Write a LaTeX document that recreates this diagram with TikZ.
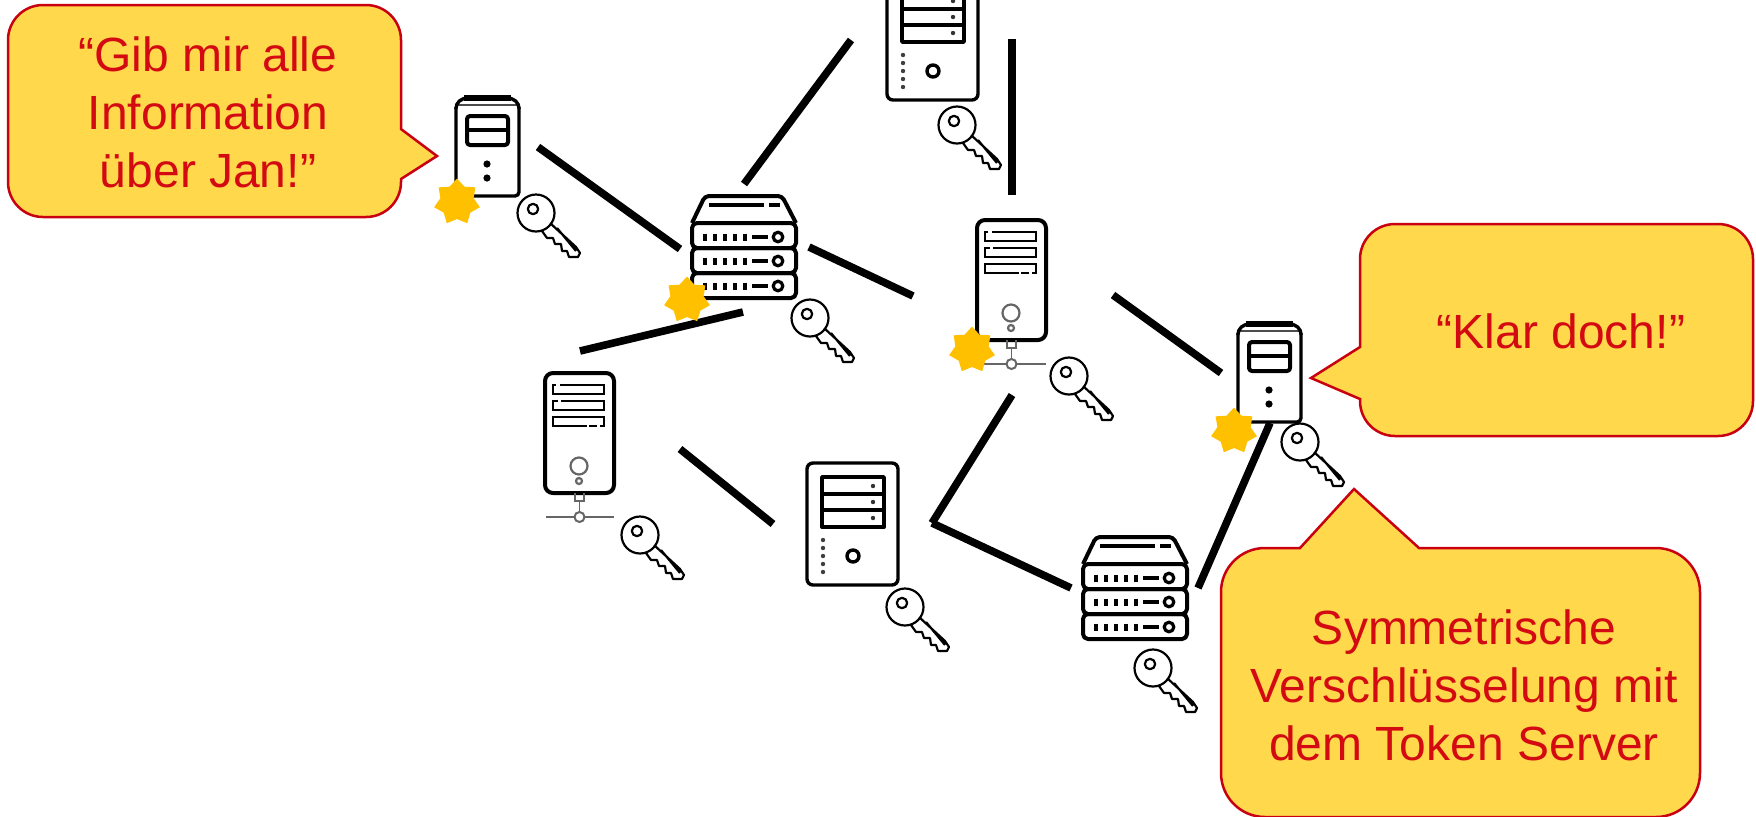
\documentclass[tikz,border=0pt]{standalone}
\usepackage{fontspec}
\setmainfont{Liberation Sans}
\usetikzlibrary{shapes.geometric}
\definecolor{calloutfill}{HTML}{FFD84B}
\definecolor{calloutedge}{HTML}{C8000F}
\definecolor{callouttext}{HTML}{D40A12}
\definecolor{starfill}{HTML}{FFC000}
\definecolor{icongrey}{HTML}{666666}
\tikzset{
  link/.style={draw=black,line width=3.8pt,line cap=butt},
  callout/.style={fill=calloutfill,draw=calloutedge,line width=1.25pt,line join=miter},
  saytext/.style={text=callouttext,font=\fontsize{24}{29}\selectfont,align=center,inner sep=0pt},
  gear/.style={star,star points=7,star point ratio=1.38,minimum size=23.5pt,inner sep=0pt,fill=starfill,draw=none},
  icon/.style={draw=black,line width=1.7pt,line join=round},
  thinicon/.style={draw=black,line width=.85pt},
  pics/key/.style={code={
    \draw[thinicon,line width=1.1pt,line join=round]
      (0,0) circle (18.5)
      (-3,-4) circle (5.2)
      (14,10) -- (40,34) -- (44,40) -- (42,44) -- (33,44) -- (31,38) -- (26,38) -- (25,31) -- (19,31) -- (17,25) -- (11,25) -- (6,18)
      (21,15) -- (40,38);
  }},
  pics/towerA/.style={code={
    \draw[icon,rounded corners=2pt] (0,10) -- (0,99) -- (63,99) -- (63,10);
    \draw[icon,line width=1pt,draw=black!70] (0,8) -- (63,8);
    \draw[icon,rounded corners=2pt] (0,12) -- (0,7) -- (7,1) -- (56,1) -- (63,7) -- (63,12);
    \draw[draw=black,line width=2.6pt] (8,1) -- (55,1);
    \draw[icon,line width=2pt,rounded corners=1.5pt] (11,19) rectangle (52,48);
    \draw[icon,line width=2pt] (11,33) -- (52,33);
    \fill (31,67) circle (3.6) (31,81) circle (3.6);
  }},
  pics/towerB/.style={code={
    \draw[icon,rounded corners=4pt,line width=2pt] (0,0) rectangle (69,120);
    \draw[thinicon] (15,12) -- (59,12) -- (59,21) -- (8,21) -- (8,12) -- (11,12);
    \draw[thinicon] (16,28) -- (59,28) -- (59,37) -- (8,37) -- (8,28) -- (13,28);
    \draw[thinicon] (42,53) -- (8,53) -- (8,44) -- (59,44) -- (59,53) -- (55,53) (44,53) -- (52,53);
    \draw[thinicon,draw=icongrey,line width=1.1pt] (34,93) circle (8.5) (34,108) circle (3);
    \draw[thinicon,draw=icongrey] (30,120) -- (30,128) -- (39,128) -- (39,120) (34.5,128) -- (34.5,139);
    \draw[draw=icongrey,line width=.85pt] (1,144) -- (29.5,144) (39.5,144) -- (69,144);
    \draw[draw=icongrey,line width=1pt] (34.5,144) circle (5);
  }},
  pics/rack/.style={code={
    \draw[icon,line width=2pt,rounded corners=2pt] (0,28) -- (13,1) -- (90,1) -- (104,28);
    \draw[icon,line width=2pt,rounded corners=2.5pt] (0,28) rectangle (104,53);
    \draw[icon,line width=2pt,rounded corners=2.5pt] (0,53) rectangle (104,78);
    \draw[icon,line width=2pt,rounded corners=2.5pt] (0,78) rectangle (104,103);
    \draw[icon,line width=1.8pt] (17,10) -- (72,10) (77,10) -- (88,10);
    \foreach \rowy in {42,66,91}{
      \draw[icon,line width=1.8pt] (13,\rowy-3.5) -- (13,\rowy+3.5) (23,\rowy-3.5) -- (23,\rowy+3.5)
        (33,\rowy-3.5) -- (33,\rowy+3.5) (43,\rowy-3.5) -- (43,\rowy+3.5) (53,\rowy-3.5) -- (53,\rowy+3.5)
        (60,\rowy) -- (76,\rowy);
      \draw[icon,line width=1.6pt] (86,\rowy) circle (4.8);
    }
  }},
  pics/towerD/.style={code={
    \draw[icon,rounded corners=3pt] (0,0) rectangle (91,122);
    \draw[icon,line width=1.9pt] (15,14) rectangle (77,64) (15,31) -- (77,31) (15,47) -- (77,47);
    \fill[black!80] (66,23) circle (2.2) (66,39) circle (2.2) (66,55) circle (2.2);
    \fill[black!75] (16,77) circle (2.2) (16,85) circle (2.2) (16,93) circle (2.2) (16,101) circle (2.2) (16,109) circle (2.2);
    \draw[icon,line width=1.7pt] (46,93) circle (6);
  }},
}
\begin{document}
\begin{tikzpicture}[x=0.5pt,y=-0.5pt]
\useasboundingbox (0,0) rectangle (1756,816);
\clip (0,0) rectangle (1756,816);

% connector end points
\coordinate (l1a) at (851,40);   \coordinate (l1b) at (744,184);
\coordinate (l2a) at (1012,39);  \coordinate (l2b) at (1012,195);
\coordinate (l3a) at (538,147);  \coordinate (l3b) at (680,249);
\coordinate (l4a) at (809,247);  \coordinate (l4b) at (913,296);
\coordinate (l5a) at (580,351);  \coordinate (l5b) at (743,312);
\coordinate (l6a) at (1113,295); \coordinate (l6b) at (1221,373);
\coordinate (l7a) at (1012,395); \coordinate (corner) at (932,523);
\coordinate (l8b) at (1071,588);
\coordinate (l9a) at (680,449);  \coordinate (l9b) at (773,524);
\coordinate (l10a) at (1270,423);\coordinate (l10b) at (1198,588);

% icons
\pic (srvtop) at (887,-22) {towerD};
\pic (srvlow) at (807,463) {towerD};
\pic (srvleft) at (456,97) {towerA};
\pic (srvright) at (1238,323) {towerA};
\pic (srvmid) at (977,220) {towerB};
\pic (srvlowleft) at (545,373) {towerB};
\pic (rackmid) at (692,195) {rack};
\pic (racklow) at (1083,536) {rack};

% keys
\pic (k1) at (536,213) {key};
\pic (k2) at (810,318) {key};
\pic (k3) at (1069,376) {key};
\pic (k4) at (905,607) {key};
\pic (k5) at (1153,668) {key};
\pic (k6) at (957,125) {key};
\pic (k7) at (640,535) {key};
\pic (k8) at (1300,442) {key};

% links
\draw[link] (l1a) -- (l1b);
\draw[link] (l2a) -- (l2b);
\draw[link] (l3a) -- (l3b);
\draw[link] (l4a) -- (l4b);
\draw[link] (l5a) -- (l5b);
\draw[link] (l6a) -- (l6b);
\draw[link] (l7a) -- (corner);
\draw[link] (corner) -- (l8b);
\draw[link] (l9a) -- (l9b);
\draw[link] (l10a) -- (l10b);

% stars
\node[gear] (s1) at (457,202) {};
\node[gear] (s2) at (687,300) {};
\node[gear] (s3) at (972,350) {};
\node[gear] (s4) at (1234,431) {};

% callouts (y runs downward, so the arcs turn the other way)
\path[callout] (401,129) -- (401,40) arc[start angle=0,end angle=-90,radius=35]
  -- (43,5) arc[start angle=-90,end angle=-180,radius=35]
  -- (8,182) arc[start angle=180,end angle=90,radius=35]
  -- (366,217) arc[start angle=90,end angle=0,radius=35]
  -- (401,179) -- (437,156) -- cycle;
\path[callout] (1360,347) -- (1360,259) arc[start angle=180,end angle=270,radius=35]
  -- (1718,224) arc[start angle=-90,end angle=0,radius=35]
  -- (1753,401) arc[start angle=0,end angle=90,radius=35]
  -- (1395,436) arc[start angle=90,end angle=180,radius=35]
  -- (1360,399) -- (1311,378) -- cycle;
\path[callout] (1300,548) -- (1265,548) arc[start angle=-90,end angle=-180,radius=44]
  -- (1221,773) arc[start angle=180,end angle=90,radius=44]
  -- (1656,817) arc[start angle=90,end angle=0,radius=44]
  -- (1700,592) arc[start angle=0,end angle=-90,radius=44]
  -- (1419,548) -- (1354,489) -- cycle;

\node[saytext] (say1) at (208,112) {“Gib mir alle\\Information\\über Jan!”};
\node[saytext] (say2) at (1561,331) {“Klar doch!”};
\node[saytext] (say3) at (1464,685) {Symmetrische\\Verschlüsselung mit\\dem Token Server};
\end{tikzpicture}
\end{document}
